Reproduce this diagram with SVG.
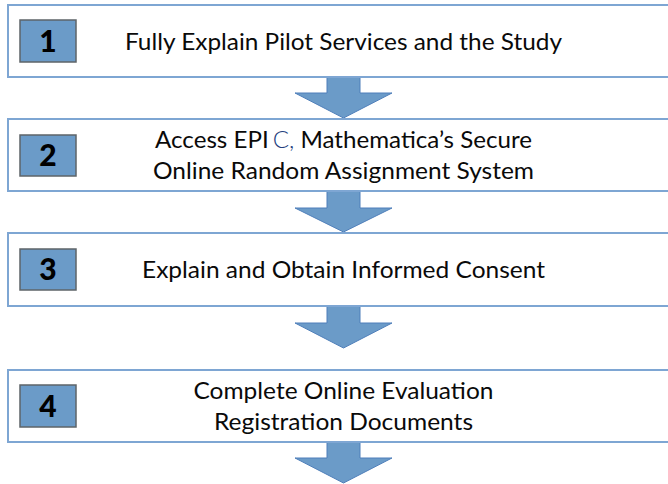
<svg xmlns="http://www.w3.org/2000/svg" width="668" height="484" viewBox="0 0 668 484">
<style>
.box{fill:#ffffff;stroke:#7ea6d3;stroke-width:2}
.num{fill:#6b9bc8;stroke:#5e6468;stroke-width:1.5}
.arrow{fill:#6b9bc8;stroke:#4f7fba;stroke-width:1}
.t{font-family:Lato,"Open Sans","Liberation Sans",sans-serif;font-size:24px;fill:#0a0a0a;text-anchor:middle}
.n{font-family:Lato,"Liberation Sans",sans-serif;font-size:30px;font-weight:900;fill:#000000;text-anchor:middle}
</style>
<rect width="668" height="484" fill="#ffffff"/>
<g id="connectors">
  <path class="arrow" d="M327,76 H360 V93 H392 L343.5,118 L295,93 H327 Z"/>
  <path class="arrow" d="M327,190 H360 V208 H392 L343.5,232 L295,208 H327 Z"/>
  <path class="arrow" d="M327,305 H360 V323 H392 L343.5,348 L295,323 H327 Z"/>
  <path class="arrow" d="M327,441 H360 V458 H392 L343.5,483 L295,458 H327 Z"/>
</g>
<g id="step1">
  <rect class="box" x="8" y="5" width="672" height="72"/>
  <rect class="num" x="20" y="20" width="56" height="42"/>
  <text class="n" x="48" y="52">1</text>
  <text class="t" x="343.5" y="50" textLength="437" lengthAdjust="spacingAndGlyphs">Fully Explain Pilot Services and the Study</text>
</g>
<g id="step2">
  <rect class="box" x="8" y="119" width="672" height="72"/>
  <rect class="num" x="20" y="135" width="56" height="41"/>
  <text class="n" x="48" y="166">2</text>
  <text class="t" x="343.5" y="148" textLength="377" lengthAdjust="spacingAndGlyphs">Access EPI<tspan dx="4" fill="#24407e" font-weight="300">C,</tspan> Mathematica’s Secure</text>
  <text class="t" x="343.5" y="179" textLength="381" lengthAdjust="spacingAndGlyphs">Online Random Assignment System</text>
</g>
<g id="step3">
  <rect class="box" x="8" y="233" width="672" height="73"/>
  <rect class="num" x="20" y="249" width="56" height="41"/>
  <text class="n" x="48" y="280">3</text>
  <text class="t" x="343.5" y="278" textLength="403" lengthAdjust="spacingAndGlyphs">Explain and Obtain Informed Consent</text>
</g>
<g id="step4">
  <rect class="box" x="8" y="370" width="672" height="72"/>
  <rect class="num" x="20" y="385" width="56" height="42"/>
  <text class="n" x="48" y="417">4</text>
  <text class="t" x="343.5" y="399" textLength="300" lengthAdjust="spacingAndGlyphs">Complete Online Evaluation</text>
  <text class="t" x="343.5" y="430" textLength="259" lengthAdjust="spacingAndGlyphs">Registration Documents</text>
</g>
</svg>
